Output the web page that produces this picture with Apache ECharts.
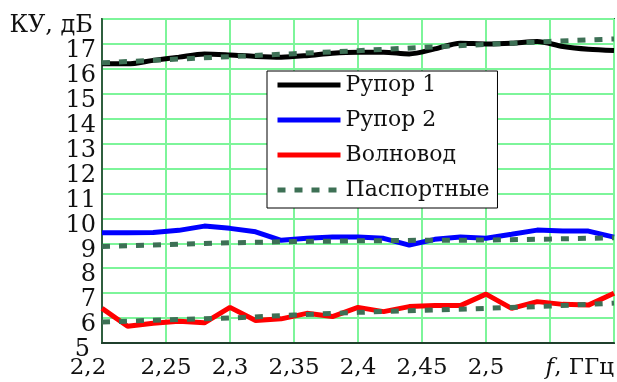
<!DOCTYPE html>
<html>
<head>
<meta charset="utf-8">
<script src="https://cdn.jsdelivr.net/npm/echarts@6/dist/echarts.min.js"></script>
<style>html,body{margin:0;padding:0;background:#fff}#c{width:617px;height:382px}</style>
</head>
<body>
<div id="c"></div>
<script>
// Frequencies, GHz (measured, 0.02 step)
var freqMeas = [2.20,2.22,2.24,2.26,2.28,2.30,2.32,2.34,2.36,2.38,2.40,2.42,2.44,2.46,2.48,2.50,2.52,2.54,2.56,2.58,2.60];
var horn1 = [16.20,16.20,16.34,16.47,16.60,16.56,16.50,16.47,16.53,16.63,16.67,16.67,16.60,16.80,17.03,17.00,17.03,17.10,16.90,16.79,16.74];
var horn2 = [9.42,9.42,9.43,9.52,9.69,9.60,9.46,9.12,9.20,9.25,9.25,9.20,8.93,9.16,9.25,9.20,9.36,9.53,9.49,9.49,9.25];
var waveguide = [6.39,5.67,5.79,5.87,5.81,6.43,5.90,5.97,6.19,6.06,6.43,6.26,6.46,6.50,6.50,6.96,6.39,6.66,6.55,6.52,7.00];
// Passport data (0.05 step)
var freqPass = [2.20,2.25,2.30,2.35,2.40,2.45,2.50,2.55,2.60];
var pass1 = [16.24,16.37,16.49,16.61,16.73,16.86,16.98,17.10,17.20];
var pass2 = [8.87,8.95,9.02,9.07,9.10,9.12,9.13,9.17,9.22];
var pass3 = [5.84,5.93,6.00,6.12,6.23,6.31,6.39,6.48,6.60];
var seriesNames = ['Рупор 1','Рупор 2','Волновод','Паспортные'];
var yAxisTitle = 'КУ, дБ';
var xAxisUnit = 'ГГц';
var yMin = 5, yMax = 18;

function pairs(xs, ys){ return xs.map(function(x,i){ return [x, ys[i]]; }); }

var FONT = 'DejaVu Serif';
var FS = 23;
var dashColor = '#3d7055';
var dashStyle = {color: dashColor, width: 5, type: [8, 9]};
var yRich = {a: {fontFamily: FONT, fontSize: 24, lineHeight: 8, padding: [14,0,0,0], color: '#111'}};

var chart = echarts.init(document.getElementById('c'), null, {renderer: 'canvas'});
chart.setOption({
  animation: false,
  backgroundColor: '#ffffff',
  grid: {left: 102, right: 3, top: 17, bottom: 39, show: true, borderColor: '#2f5f3f', borderWidth: 2, backgroundColor: 'transparent'},
  xAxis: {
    type: 'value', min: 2.2, max: 2.6, interval: 0.05,
    axisLine: {show: true, lineStyle: {color: '#1f3f2c', width: 2}},
    axisTick: {show: false},
    splitLine: {show: true, lineStyle: {color: '#7df59a', width: 2}},
    axisLabel: {
      fontFamily: FONT, fontSize: FS, color: '#111', margin: 14,
      showMinLabel: true, showMaxLabel: true, alignMinLabel: 'center', alignMaxLabel: 'right', hideOverlap: false,
      formatter: function(v){
        var r = Math.round(v*100)/100;
        if (Math.abs(r-2.55) < 1e-6) return '';
        if (Math.abs(r-2.6) < 1e-6) return '{i|f}, ' + xAxisUnit;
        if (Math.abs(r-2.2) < 1e-6) return '{m|' + String(r).replace('.', ',') + '}';
        return String(r).replace('.', ',');
      },
      rich: {
        i: {fontFamily: FONT, fontSize: FS, fontStyle: 'italic', color: '#111'},
        m: {fontFamily: FONT, fontSize: FS, color: '#111', padding: [0, 28, 0, 0]}
      }
    }
  },
  yAxis: [
    {
      type: 'value', min: yMin, max: yMax, interval: 1,
      axisLine: {show: true, lineStyle: {color: '#2f5f3f', width: 2}},
      axisTick: {show: false},
      splitLine: {show: true, lineStyle: {color: '#7df59a', width: 2}},
      axisLabel: {
        fontFamily: FONT, fontSize: 8, lineHeight: 8, color: '#111', margin: 6,
        showMinLabel: false, showMaxLabel: false, hideOverlap: false,
        formatter: function(v){ return (v === yMin || v === yMax) ? '' : '{a|' + v + '}'; },
        rich: yRich
      }
    },
    {
      type: 'value', min: yMin, max: yMax, interval: 1, position: 'left',
      axisLine: {show: false}, axisTick: {show: false}, splitLine: {show: false},
      axisLabel: {
        fontFamily: FONT, fontSize: 8, lineHeight: 8, color: '#111', margin: 9,
        showMinLabel: true, showMaxLabel: true, hideOverlap: false,
        formatter: function(v){ return v === yMax ? '{a|' + yAxisTitle + '}' : (v === yMin ? '{b|' + v + '}' : ''); },
        rich: {a: yRich.a, b: {fontFamily: FONT, fontSize: 24, lineHeight: 8, padding: [14,3,0,0], color: '#111'}}
      }
    }
  ],
  legend: {
    orient: 'vertical', left: 267, top: 71,
    backgroundColor: '#fff', borderColor: '#000', borderWidth: 1,
    padding: [0, 8, 4, 8], itemGap: 7, itemWidth: 63, itemHeight: 14,
    itemStyle: {opacity: 0},
    lineStyle: {width: 5},
    textStyle: {fontFamily: FONT, fontSize: 22, color: '#111', lineHeight: 28},
    data: seriesNames
  },
  series: [
    {name: seriesNames[0], type: 'line', data: pairs(freqMeas, horn1), symbol: 'none', smooth: 0.3, lineStyle: {color: '#000', width: 5}, itemStyle: {color: '#000'}},
    {name: seriesNames[1], type: 'line', data: pairs(freqMeas, horn2), symbol: 'none', lineStyle: {color: '#0000ff', width: 5}, itemStyle: {color: '#0000ff'}},
    {name: seriesNames[2], type: 'line', data: pairs(freqMeas, waveguide), symbol: 'none', lineStyle: {color: '#ff0000', width: 5}, itemStyle: {color: '#ff0000'}},
    {name: seriesNames[3], type: 'line', data: pairs(freqPass, pass1), symbol: 'none', lineStyle: dashStyle, itemStyle: {color: dashColor}},
    {name: seriesNames[3], type: 'line', data: pairs(freqPass, pass2), symbol: 'none', lineStyle: dashStyle, itemStyle: {color: dashColor}},
    {name: seriesNames[3], type: 'line', data: pairs(freqPass, pass3), symbol: 'none', lineStyle: dashStyle, itemStyle: {color: dashColor}}
  ]
});
</script>
</body>
</html>
